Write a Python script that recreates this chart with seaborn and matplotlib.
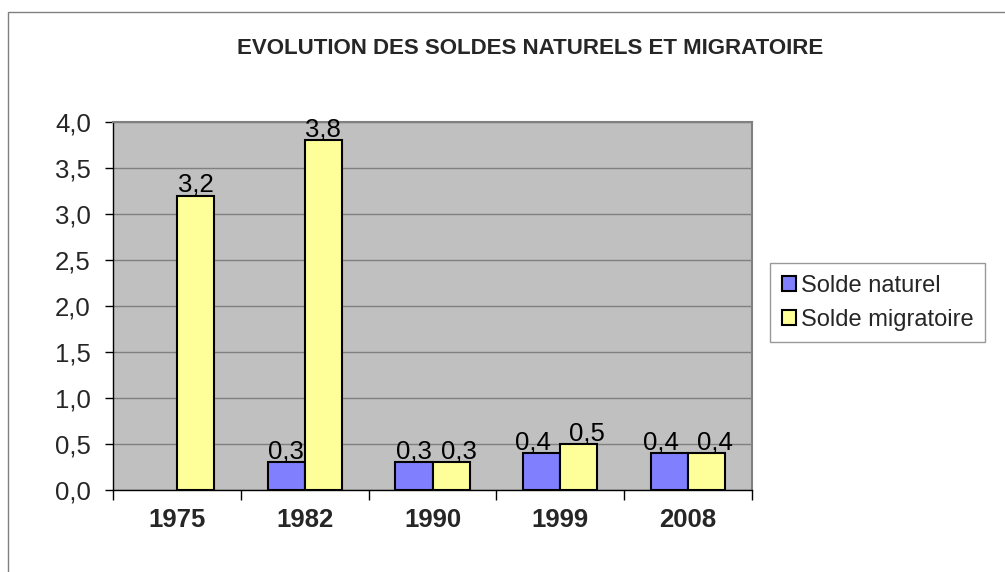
import numpy as np
import pandas as pd
import matplotlib
matplotlib.use("Agg")
import matplotlib.pyplot as plt
import matplotlib.ticker as mticker
from matplotlib.patches import Rectangle
import seaborn as sns

# Data
annees = ["1975", "1982", "1990", "1999", "2008"]
solde_naturel = [np.nan, 0.3, 0.3, 0.4, 0.4]
solde_migratoire = [3.2, 3.8, 0.3, 0.5, 0.4]
series = ["Solde naturel", "Solde migratoire"]
couleurs = ["#8080FF", "#FFFF99"]

df = pd.DataFrame({
    "annee": annees * 2,
    "valeur": solde_naturel + solde_migratoire,
    "serie": [series[0]] * len(annees) + [series[1]] * len(annees),
})

sns.set_style("ticks")
plt.rcParams["font.family"] = ["Liberation Sans", "DejaVu Sans"]

fig = plt.figure(figsize=(10.05, 5.72), dpi=100)
fig.patch.set_facecolor("white")
ax = fig.add_axes([113 / 1005, 1 - 490 / 572, (752 - 113) / 1005, (490 - 122) / 572])
ax.set_facecolor("#C0C0C0")

sns.barplot(data=df, x="annee", y="valeur", hue="serie", hue_order=series,
            palette=couleurs, width=0.58, gap=0, edgecolor="black",
            linewidth=1.5, saturation=1, ax=ax, zorder=3)

# data labels with decimal comma; pushed apart a bit where two labels sit side by side
for k, cont in enumerate(ax.containers):
    labels = ["" if np.isnan(v) else f"{v:.1f}".replace(".", ",") for v in cont.datavalues]
    texts = ax.bar_label(cont, labels=labels, padding=-1, fontsize=18.5, color="black", zorder=4)
    sens = -1 if k == 0 else 1
    for i, t in enumerate(texts):
        if not (np.isnan(solde_naturel[i]) or abs(solde_migratoire[i] - solde_naturel[i]) > 1):
            t.xyann = (sens * 6, -1)

ax.set_ylim(0, 4.0)
ax.set_xlim(-0.5, 4.5)
ax.yaxis.set_major_locator(mticker.MultipleLocator(0.5))
ax.yaxis.set_major_formatter(mticker.FuncFormatter(lambda v, p: f"{v:.1f}".replace(".", ",")))
ax.grid(axis="y", color="#808080", linewidth=1, zorder=0)
ax.set_axisbelow(True)

ax.set_xlabel("")
ax.set_ylabel("")
ax.tick_params(axis="y", labelsize=18.5, length=6, width=1, color="black", direction="out", pad=10)
ax.tick_params(axis="x", which="major", length=0, labelsize=18.5, pad=13)
ax.set_xticks(np.arange(-0.5, 5, 1), minor=True)
ax.tick_params(axis="x", which="minor", length=7, width=1, color="black", direction="out")
for lab in ax.get_xticklabels():
    lab.set_fontweight("bold")

for side in ["left", "bottom"]:
    ax.spines[side].set_color("black")
    ax.spines[side].set_linewidth(1)
for side in ["top", "right"]:
    ax.spines[side].set_visible(True)
    ax.spines[side].set_color("#808080")
    ax.spines[side].set_linewidth(1.5)

leg = ax.legend(loc="upper left", bbox_to_anchor=(770 / 1005, 1 - 263 / 572),
                bbox_transform=fig.transFigure, fontsize=17, frameon=True,
                fancybox=False, edgecolor="#808080", handlelength=0.6,
                handleheight=0.6, handletextpad=0.2, borderpad=0.5,
                labelspacing=0.5, borderaxespad=0)
leg.get_frame().set_linewidth(1)
for h in leg.legend_handles:
    h.set_edgecolor("black")
    h.set_linewidth(1.5)

fig.text(0.527, 1 - 49 / 572, "EVOLUTION DES SOLDES NATURELS ET MIGRATOIRE",
         ha="center", va="center", fontsize=16, fontweight="bold")

# outer chart border
fig.patches.append(Rectangle((8 / 1005, -0.05), 1.1, 1 - 12 / 572 + 0.05,
                             transform=fig.transFigure, fill=False,
                             edgecolor="#808080", linewidth=1))

fig.savefig("out.png", dpi=100)
